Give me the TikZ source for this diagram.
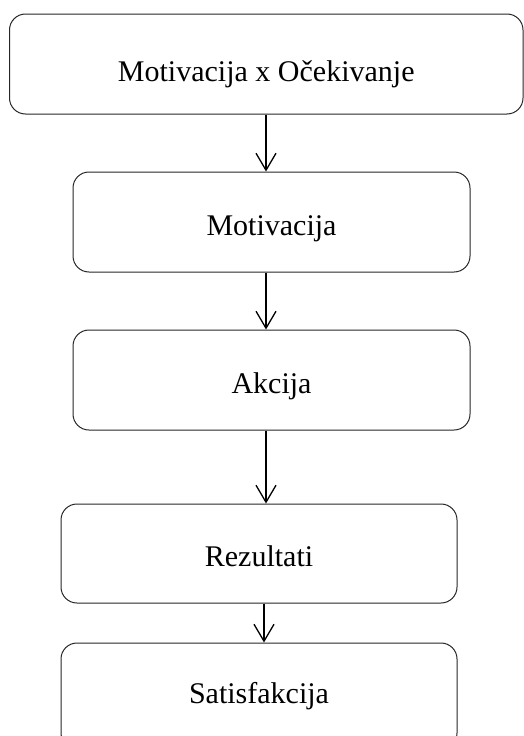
\documentclass[tikz,border=0pt]{standalone}
\usepackage{fontspec}
\setmainfont{Liberation Serif}
\usetikzlibrary{arrows.meta}
\begin{document}
\begin{tikzpicture}[x=1pt,y=-1pt,
  box/.style={draw=black!85,line width=1pt,rounded corners=16pt,inner sep=0pt,font=\fontsize{30}{34}\selectfont},
  low/.style={text height=#1,text depth=0pt},
  arr/.style={draw=black,line width=1.3pt,-{Straight Barb[length=17pt,width=20pt,line width=1.3pt]}}]
\useasboundingbox (0,0) rectangle (524,736);
\node[box,low=34pt,minimum width=513.5pt,minimum height=100pt] (b1) at (266.25,64) {Motivacija x Očekivanje};
\node[box,low=26pt,minimum width=397pt,minimum height=100pt] (b2) at (271.5,222) {Motivacija};
\node[box,low=26pt,minimum width=397pt,minimum height=100pt] (b3) at (271.5,380) {Akcija};
\node[box,low=26pt,minimum width=396pt,minimum height=99pt] (b4) at (259,553.5) {Rezultati};
\node[box,minimum width=396pt,minimum height=106pt] (b5) at (259,696) {Satisfakcija};
\coordinate (ax) at (266,0);
\coordinate (bx) at (264,0);
\draw[arr] (b1.south -| ax) -- (b2.north -| ax);
\draw[arr] (b2.south -| ax) -- (b3.north -| ax);
\draw[arr] (b3.south -| ax) -- (b4.north -| ax);
\draw[arr] (b4.south -| bx) -- (b5.north -| bx);
\end{tikzpicture}
\end{document}
